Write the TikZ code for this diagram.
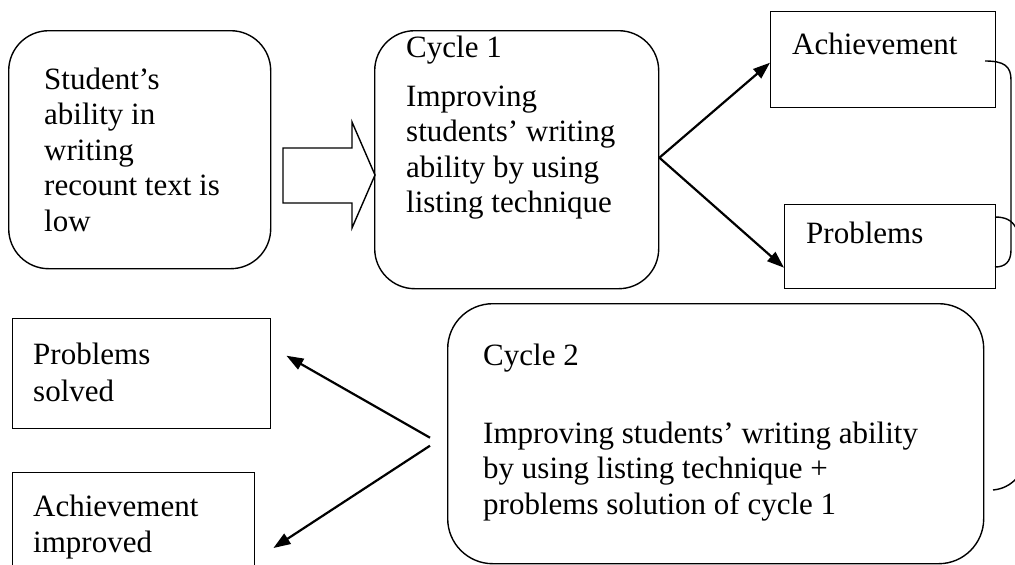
\documentclass[tikz,border=0pt]{standalone}
\usepackage{fontspec}
\setmainfont{Liberation Serif}
\usetikzlibrary{arrows.meta,calc}
\newcommand\ptext[1]{\parbox[t]{520pt}{\raggedright #1}}
\begin{document}
\begin{tikzpicture}[x=1pt,y=-1pt,
  box/.style={draw=black,line width=1.4pt,anchor=north west,inner sep=0pt},
  rbox/.style={box,rounded corners=40pt},
  txt/.style={anchor=base west,inner sep=0pt,font=\fontsize{31pt}{35.5pt}\selectfont},
  arr/.style={line width=2.2pt,-{Triangle[length=17pt,width=12pt]}},
  thin/.style={line width=1.4pt}]
\path[use as bounding box,clip] (0,0) rectangle (1015,565);
\fill[white] (0,0) rectangle (1015,565);
% boxes
\node[rbox,minimum width=262pt,minimum height=238pt] (b1) at (8,30) {};
\node[rbox,minimum width=284pt,minimum height=258pt] (c1) at (374,30) {};
\node[box,minimum width=225pt,minimum height=96pt] (ach) at (770,11) {};
\node[box,minimum width=211pt,minimum height=84pt] (prob) at (784,204) {};
\node[box,minimum width=258pt,minimum height=110pt] (ps) at (12,318) {};
\node[box,minimum width=242pt,minimum height=120pt] (ai) at (12,472) {};
\node[rbox,rounded corners=45pt,minimum width=536pt,minimum height=260pt] (c2) at (447,303) {};
% texts
\node[txt] (tb1) at (44,89) {\ptext{Student’s\\ability in\\writing\\recount text is\\low}};
\node[txt] (tc1) at (406,57) {\ptext{Cycle 1\\[13.5pt]Improving\\students’ writing\\ability by using\\listing technique}};
\node[txt] (tach) at (792,54) {Achievement};
\node[txt] (tprob) at (806,243) {Problems};
\node[txt] (tps) at (33,364) {\ptext{Problems\\[1.5pt]solved}};
\node[txt] (tai) at (33,516) {\ptext{Achievement\\[1pt]improved}};
\node[txt] (tc2) at (483,365) {\ptext{Cycle 2\\[42.5pt]Improving students’ writing ability\\by using listing technique +\\problems solution of cycle 1}};
% block arrow
\draw[thin,fill=white] (283,148) -- (352,148) -- (352,122) -- (375,175) -- (352,228) -- (352,203) -- (283,203) -- cycle;
% arrows from cycle 1
\coordinate (j1) at ($(c1.east)+(0,-2)$);
\draw[arr] (j1) -- ($(ach.west)+(0,3)$);
\draw[arr] (j1) -- ($(prob.west)+(0,21)$);
% arrows from cycle 2
\coordinate (j2a) at ($(c2.west)+(-17,4)$);
\coordinate (j2b) at ($(c2.west)+(-17,12)$);
\draw[arr] (j2a) -- ($(ps.east)+(15,-18)$);
\draw[arr] (j2b) -- ($(ai.north east)+(18,76)$);
% bracket curves on the right
\draw[thin] (985,61) .. controls (1004,61) and (1011,66) .. (1011,80) -- (1011,250) .. controls (1011,262) and (1005,267) .. (995,267);
\draw[thin] (995,217) .. controls (1005,217) and (1012,220) .. (1016,228);
\draw[thin] (993,490) .. controls (1003,489) and (1010,485) .. (1016,479);
\end{tikzpicture}
\end{document}
